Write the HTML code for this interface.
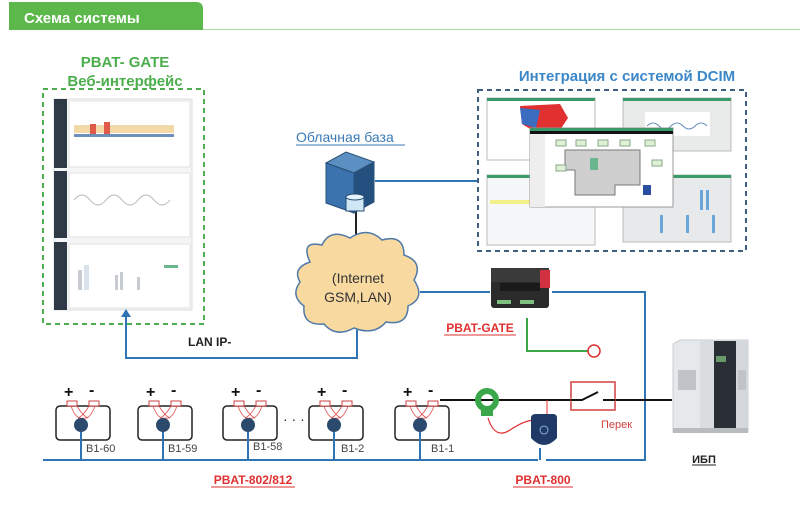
<!DOCTYPE html>
<html><head><meta charset="utf-8"><style>
body{margin:0;background:#fff}
svg{display:block;font-family:"Liberation Sans","Noto Sans CJK SC",sans-serif}
</style></head><body>
<svg width="800" height="522" viewBox="0 0 800 522" xmlns="http://www.w3.org/2000/svg">
<!-- header -->
<line x1="9" y1="29.5" x2="800" y2="29.5" stroke="#a9d79c" stroke-width="1"/>
<path d="M9 2 H196 Q203 2 203 9 V30 H9 Z" fill="#5db84b"/>
<text x="24" y="23" font-size="15" font-weight="bold" fill="#fff">Схема системы</text>

<!-- left web-interface -->
<text x="125" y="67" font-size="15" font-weight="bold" fill="#4cae4c" text-anchor="middle">PBAT- GATE</text>
<text x="125" y="86" font-size="15" font-weight="bold" fill="#4cae4c" text-anchor="middle">Веб-интерфейс</text>
<rect x="43" y="89" width="161" height="235" fill="none" stroke="#4cae4c" stroke-width="2" stroke-dasharray="5,4"/>
<g>
 <rect x="54" y="99" width="138" height="211" fill="#f4f5f6" stroke="#ddd"/>
 <rect x="54" y="99" width="13" height="69" fill="#2f3a46"/>
 <rect x="54" y="171" width="13" height="67" fill="#2f3a46"/>
 <rect x="54" y="242" width="13" height="68" fill="#2f3a46"/>
 <rect x="69" y="101" width="121" height="66" fill="#fff" stroke="#e2e2e2"/>
 <rect x="69" y="173" width="121" height="64" fill="#fff" stroke="#e2e2e2"/>
 <rect x="69" y="244" width="121" height="64" fill="#fff" stroke="#e2e2e2"/>
 <g fill="#f3d9a8"><rect x="74" y="125" width="100" height="8"/></g>
 <g fill="#e05a4a"><rect x="90" y="124" width="6" height="10"/><rect x="104" y="122" width="6" height="12"/></g>
 <g fill="#6b8fb8"><rect x="74" y="134" width="100" height="3"/></g>
 <path d="M74 200 q8 -10 16 0 t16 0 t16 0 t16 0 t16 0 t16 0" fill="none" stroke="#b0b8c0"/>
 <g fill="#c8ccd2"><rect x="78" y="270" width="4" height="20"/><rect x="84" y="265" width="5" height="25" fill="#d8e2ea"/><rect x="115" y="275" width="3" height="15"/><rect x="120" y="272" width="3" height="18"/><rect x="137" y="277" width="3" height="13"/></g>
 <rect x="164" y="265" width="14" height="3" fill="#6ab58e"/>
</g>
<!-- arrow up into left box -->
<path d="M357 330 V358 H126 V314" fill="none" stroke="#2f75b5" stroke-width="2"/>
<path d="M121 317 L126 309 L131 317 Z" fill="#2f75b5"/>
<text x="188" y="346" font-size="12" font-weight="bold" fill="#222">LAN IP-</text>

<!-- cloud base -->
<text x="296" y="142" font-size="14" fill="#3a7ab8">Облачная база</text>
<line x1="296" y1="145" x2="405" y2="145" stroke="#3a7ab8"/>
<line x1="375" y1="181" x2="478" y2="181" stroke="#2f75b5" stroke-width="2"/>
<line x1="356" y1="210" x2="356" y2="248" stroke="#222" stroke-width="2"/>
<!-- server -->
<path d="M326 163 L346 152 L374 162 L354 173 Z" fill="#5c8fc2" stroke="#2a4f77"/>
<path d="M326 163 L354 173 V213 L326 203 Z" fill="#3a73ad" stroke="#2a4f77"/>
<path d="M354 173 L374 162 V202 L354 213 Z" fill="#24507f" stroke="#2a4f77"/>
<rect x="346" y="197" width="18" height="14" fill="#cfe6f4" stroke="#2a4f77"/>
<ellipse cx="355" cy="197" rx="9" ry="3" fill="#e6f3fa" stroke="#2a4f77"/>
<!-- cloud -->
<path d="M310 262 Q300 240 322 245 Q330 228 350 238 Q368 226 382 240 Q404 234 404 255 Q424 262 414 280 Q426 298 408 306 Q408 326 386 322 Q374 336 354 328 Q336 338 324 324 Q302 326 304 306 Q290 296 300 282 Q292 268 310 262 Z" fill="#f8d9a0" stroke="#4f79a8" stroke-width="1.5"/>
<text x="358" y="283" font-size="14" fill="#333" text-anchor="middle">(Internet</text>
<text x="358" y="302" font-size="14" fill="#333" text-anchor="middle">GSM,LAN)</text>

<!-- DCIM -->
<text x="627" y="81" font-size="15" font-weight="bold" fill="#3b87c8" text-anchor="middle">Интеграция с системой DCIM</text>
<rect x="478" y="90" width="268" height="161" fill="none" stroke="#3f5e80" stroke-width="2" stroke-dasharray="5,4"/>
<g stroke="#bbb">
 <rect x="487" y="98" width="108" height="62" fill="#fff"/>
 <rect x="623" y="98" width="108" height="53" fill="#e9eaea"/>
 <rect x="487" y="175" width="108" height="70" fill="#f6f7f8"/>
 <rect x="623" y="175" width="108" height="67" fill="#e8e9ea"/>
</g>
<rect x="487" y="98" width="108" height="3" fill="#3c9a6a"/>
<rect x="623" y="98" width="108" height="3" fill="#3c9a6a"/>
<rect x="487" y="175" width="108" height="3" fill="#3c9a6a"/>
<rect x="623" y="175" width="108" height="3" fill="#3c9a6a"/>
<path d="M520 106 L560 104 L568 118 L560 130 L535 132 L522 124 Z" fill="#e03030"/>
<path d="M520 108 L540 110 L536 128 L522 124 Z" fill="#3a6cc0"/>
<rect x="645" y="112" width="65" height="24" fill="#fff"/>
<path d="M647 126 q6 -6 12 0 t12 0 t12 0 t12 0 t12 0" fill="none" stroke="#6a8cc0"/>
<rect x="490" y="200" width="100" height="4" fill="#f2f08a"/>
<g fill="#6aa6d8"><rect x="700" y="190" width="3" height="20"/><rect x="706" y="190" width="3" height="20"/><rect x="660" y="215" width="3" height="18"/><rect x="686" y="215" width="3" height="18"/><rect x="712" y="215" width="3" height="18"/></g>
<rect x="530" y="128" width="143" height="79" fill="#fff" stroke="#999"/>
<rect x="530" y="128" width="143" height="3" fill="#3c9a6a"/>
<rect x="530" y="131" width="143" height="3" fill="#111"/>
<rect x="530" y="134" width="15" height="73" fill="#eee"/>
<path d="M565 150 H640 V185 H615 V195 H575 V170 H565 Z" fill="#cfcfcf" stroke="#777"/>
<rect x="590" y="158" width="8" height="12" fill="#6ab58e"/>
<rect x="643" y="185" width="8" height="10" fill="#2b4fa0"/>
<g fill="#dff0d6" stroke="#8a8"><rect x="556" y="140" width="10" height="6"/><rect x="576" y="140" width="10" height="6"/><rect x="598" y="140" width="10" height="6"/><rect x="620" y="140" width="10" height="6"/><rect x="645" y="140" width="10" height="6"/><rect x="652" y="160" width="10" height="6"/><rect x="556" y="165" width="10" height="6"/></g>

<!-- gate -->
<path d="M420 292 H490" stroke="#2f75b5" stroke-width="2"/>
<path d="M552 292 H645 V460 H546" fill="none" stroke="#2f75b5" stroke-width="2"/>
<rect x="491" y="268" width="58" height="40" rx="3" fill="#2b2b2b"/>
<rect x="491" y="268" width="58" height="14" fill="#3a3a3a"/>
<rect x="500" y="283" width="40" height="8" fill="#1a1a1a"/>
<rect x="540" y="270" width="10" height="18" fill="#d03040"/>
<g fill="#7fbf7f"><rect x="497" y="300" width="14" height="4"/><rect x="520" y="300" width="14" height="4"/></g>
<text x="480" y="332" font-size="12" font-weight="bold" fill="#e03030" text-anchor="middle">PBAT-GATE</text>
<line x1="444" y1="335" x2="516" y2="335" stroke="#e03030"/>
<path d="M527 318 V351 H588" fill="none" stroke="#3aa84a" stroke-width="2"/>
<circle cx="594" cy="351" r="6" fill="#fff" stroke="#e03030" stroke-width="1.5"/>

<!-- bus -->
<line x1="43" y1="460" x2="538" y2="460" stroke="#2f75b5" stroke-width="2"/>
<!-- power line -->
<line x1="440" y1="400" x2="672" y2="400" stroke="#111" stroke-width="2"/>
<rect x="571" y="382" width="44" height="28" fill="#fff" stroke="#d04040" stroke-width="1.5"/>
<line x1="571" y1="400" x2="582" y2="400" stroke="#fff" stroke-width="3"/>
<line x1="604" y1="400" x2="615" y2="400" stroke="#fff" stroke-width="3"/>
<path d="M571 400 H582 L598 392 M603 400 H615" fill="none" stroke="#111" stroke-width="2"/>
<text x="601" y="428" font-size="11" fill="#d04040">Перек</text>
<!-- CT and pbat-800 -->
<circle cx="487" cy="400" r="9" fill="none" stroke="#3aa84a" stroke-width="6"/>
<path d="M481 410 h12 v6 h-12 z" fill="#3aa84a"/>
<path d="M488 418 Q495 440 510 430 T535 420" fill="none" stroke="#e03030" stroke-width="1.2"/>
<line x1="547" y1="400" x2="547" y2="415" stroke="#e03030"/>
<path d="M531 418 Q531 414 536 414 H553 Q557 414 557 418 V438 Q544 452 531 438 Z" fill="#1f3a66"/>
<circle cx="544" cy="430" r="4" fill="none" stroke="#8fb0d8"/>
<line x1="540" y1="448" x2="540" y2="460" stroke="#2f75b5" stroke-width="2"/>
<text x="543" y="484" font-size="12" font-weight="bold" fill="#e03030" text-anchor="middle">PBAT-800</text>
<line x1="513" y1="487" x2="573" y2="487" stroke="#e03030"/>
<text x="253" y="484" font-size="12" font-weight="bold" fill="#e03030" text-anchor="middle">PBAT-802/812</text>
<line x1="211" y1="487" x2="295" y2="487" stroke="#e03030"/>

<!-- batteries -->
<g id="b">
</g>
<g font-size="11" fill="#444">
<g transform="translate(56,0)">
 <rect x="0" y="406" width="54" height="34" rx="4" fill="#fff" stroke="#222" stroke-width="1.5"/>
 <rect x="11" y="401" width="10" height="5" fill="#fff" stroke="#d04040"/><rect x="33" y="401" width="10" height="5" fill="#fff" stroke="#d04040"/>
 <path d="M15 406 Q20 420 27 418 M39 406 Q34 420 27 418 M21 406 Q27 416 32 418 M33 406 Q27 416 22 418" fill="none" stroke="#e05050" stroke-width=".8"/>
 <circle cx="25" cy="425" r="7" fill="#2c4a6e"/>
 <line x1="25" y1="432" x2="25" y2="460" stroke="#2f75b5" stroke-width="2"/>
 <text x="30" y="452">B1-60</text>
 <text x="8" y="397" font-size="16" font-weight="bold" fill="#111">+</text><text x="33" y="395" font-size="16" font-weight="bold" fill="#111">-</text>
</g>
<g transform="translate(138,0)">
 <rect x="0" y="406" width="54" height="34" rx="4" fill="#fff" stroke="#222" stroke-width="1.5"/>
 <rect x="11" y="401" width="10" height="5" fill="#fff" stroke="#d04040"/><rect x="33" y="401" width="10" height="5" fill="#fff" stroke="#d04040"/>
 <path d="M15 406 Q20 420 27 418 M39 406 Q34 420 27 418 M21 406 Q27 416 32 418 M33 406 Q27 416 22 418" fill="none" stroke="#e05050" stroke-width=".8"/>
 <circle cx="25" cy="425" r="7" fill="#2c4a6e"/>
 <line x1="25" y1="432" x2="25" y2="460" stroke="#2f75b5" stroke-width="2"/>
 <text x="30" y="452">B1-59</text>
 <text x="8" y="397" font-size="16" font-weight="bold" fill="#111">+</text><text x="33" y="395" font-size="16" font-weight="bold" fill="#111">-</text>
</g>
<g transform="translate(223,0)">
 <rect x="0" y="406" width="54" height="34" rx="4" fill="#fff" stroke="#222" stroke-width="1.5"/>
 <rect x="11" y="401" width="10" height="5" fill="#fff" stroke="#d04040"/><rect x="33" y="401" width="10" height="5" fill="#fff" stroke="#d04040"/>
 <path d="M15 406 Q20 420 27 418 M39 406 Q34 420 27 418 M21 406 Q27 416 32 418 M33 406 Q27 416 22 418" fill="none" stroke="#e05050" stroke-width=".8"/>
 <circle cx="25" cy="425" r="7" fill="#2c4a6e"/>
 <line x1="25" y1="432" x2="25" y2="460" stroke="#2f75b5" stroke-width="2"/>
 <text x="30" y="450">B1-58</text>
 <text x="8" y="397" font-size="16" font-weight="bold" fill="#111">+</text><text x="33" y="395" font-size="16" font-weight="bold" fill="#111">-</text>
</g>
<text x="283" y="424" font-size="14" fill="#222">· · ·</text>
<g transform="translate(309,0)">
 <rect x="0" y="406" width="54" height="34" rx="4" fill="#fff" stroke="#222" stroke-width="1.5"/>
 <rect x="11" y="401" width="10" height="5" fill="#fff" stroke="#d04040"/><rect x="33" y="401" width="10" height="5" fill="#fff" stroke="#d04040"/>
 <path d="M15 406 Q20 420 27 418 M39 406 Q34 420 27 418 M21 406 Q27 416 32 418 M33 406 Q27 416 22 418" fill="none" stroke="#e05050" stroke-width=".8"/>
 <circle cx="25" cy="425" r="7" fill="#2c4a6e"/>
 <line x1="25" y1="432" x2="25" y2="460" stroke="#2f75b5" stroke-width="2"/>
 <text x="32" y="452">B1-2</text>
 <text x="8" y="397" font-size="16" font-weight="bold" fill="#111">+</text><text x="33" y="395" font-size="16" font-weight="bold" fill="#111">-</text>
</g>
<g transform="translate(395,0)">
 <rect x="0" y="406" width="54" height="34" rx="4" fill="#fff" stroke="#222" stroke-width="1.5"/>
 <rect x="11" y="401" width="10" height="5" fill="#fff" stroke="#d04040"/><rect x="33" y="401" width="10" height="5" fill="#fff" stroke="#d04040"/>
 <path d="M15 406 Q20 420 27 418 M39 406 Q34 420 27 418 M21 406 Q27 416 32 418 M33 406 Q27 416 22 418" fill="none" stroke="#e05050" stroke-width=".8"/>
 <circle cx="25" cy="425" r="7" fill="#2c4a6e"/>
 <line x1="25" y1="432" x2="25" y2="460" stroke="#2f75b5" stroke-width="2"/>
 <text x="36" y="452">B1-1</text>
 <text x="8" y="397" font-size="16" font-weight="bold" fill="#111">+</text><text x="33" y="395" font-size="16" font-weight="bold" fill="#111">-</text>
</g>
</g>

<!-- UPS -->
<path d="M673 344 L680 340 H748 V432 H673 Z" fill="#e6e9ec" stroke="#c8ccd0"/>
<rect x="700" y="341" width="14" height="90" fill="#d9dde0"/>
<rect x="714" y="341" width="22" height="90" fill="#2a2f35"/>
<rect x="736" y="341" width="12" height="90" fill="#d4d8dc"/>
<rect x="716" y="356" width="10" height="6" fill="#6a9a6a"/>
<g fill="#c0c4c8"><rect x="678" y="370" width="18" height="20"/><rect x="738" y="370" width="8" height="20"/></g>
<rect x="673" y="428" width="75" height="5" fill="#b8bcbf"/>
<text x="704" y="463" font-size="11" font-weight="bold" fill="#222" text-anchor="middle">ИБП</text>
<line x1="692" y1="465" x2="716" y2="465" stroke="#222"/>
</svg>
</body></html>
